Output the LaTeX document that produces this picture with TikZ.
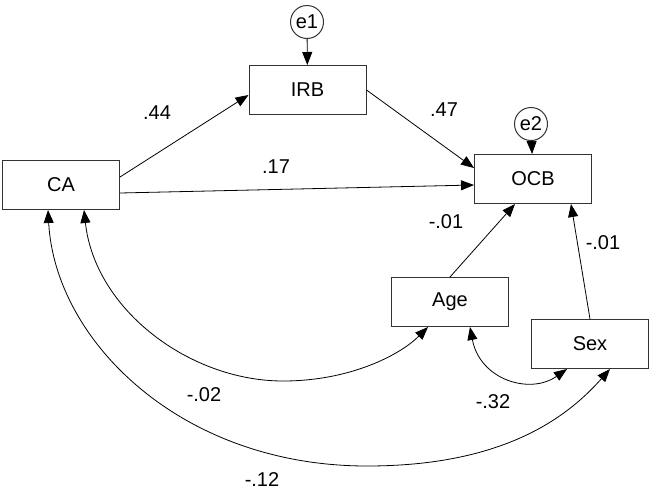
\documentclass[tikz,border=0pt]{standalone}
\usepackage{fontspec}
\setmainfont{Liberation Sans}
\usetikzlibrary{arrows.meta,calc}
\begin{document}
\begin{tikzpicture}[x=1pt,y=-1pt,
  font=\fontsize{20}{24}\selectfont,
  var/.style={draw=black!80,line width=1pt,minimum width=117pt,minimum height=49pt,inner sep=0pt},
  err/.style={draw=black!80,line width=1pt,circle,minimum size=33pt,inner sep=0pt},
  path/.style={line width=0.8pt,-{Triangle[length=13pt,width=10pt]}},
  cov/.style={line width=0.8pt,{Triangle[length=13pt,width=10pt]}-{Triangle[length=13pt,width=10pt]}},
  lab/.style={inner sep=0pt}]
\useasboundingbox[fill=white] (0,0) rectangle (649,491);
\node[var] (CA) at (61,185) {CA};
\node[var] (IRB) at (307.5,90) {IRB};
\node[var] (OCB) at (533,179) {OCB};
\node[var] (Age) at (450,302) {Age};
\node[var] (Sex) at (590,344) {Sex};
\node[err] (e1) at (307,22) {e1};
\node[err] (e2) at (531,124) {e2};
\draw[path] (e1) -- (IRB);
\draw[path] (e2) -- (OCB);
\draw[path] ($(CA.east)+(0,-8)$) -- ($(IRB.west)+(0,5)$);
\draw[path] ($(IRB.east)+(0,0)$) -- ($(OCB.west)+(0,-11)$);
\draw[path] ($(CA.east)+(0,8)$) -- ($(OCB.west)+(0,6)$);
\draw[path] (Age.north) -- ($(OCB.south)+(-18,0)$);
\draw[path] (Sex.north) -- ($(OCB.south)+(38,0)$);
\draw[cov] ($(CA.south)+(23,0)$) .. controls (95,310) and (190,381) .. (283,381) .. controls (350,381) and (400,355) .. ($(Age.south)+(-22,0)$);
\draw[cov] ($(CA.south)+(-13,0)$) .. controls (55,340) and (180,466) .. (367,466) .. controls (500,466) and (565,420) .. ($(Sex.south)+(20,0)$);
\draw[cov] ($(Age.south)+(20,0)$) .. controls (480,380) and (530,395) .. ($(Sex.south)+(-23,0)$);
\node[lab] (l1) at (157,113) {.44};
\node[lab] (l2) at (444,110) {.47};
\node[lab] (l3) at (276,167) {.17};
\node[lab] (l4) at (446,222) {-.01};
\node[lab] (l5) at (603,243) {-.01};
\node[lab] (l6) at (204,395) {-.02};
\node[lab] (l7) at (493,402) {-.32};
\node[lab] (l8) at (262,480) {-.12};
\end{tikzpicture}
\end{document}
